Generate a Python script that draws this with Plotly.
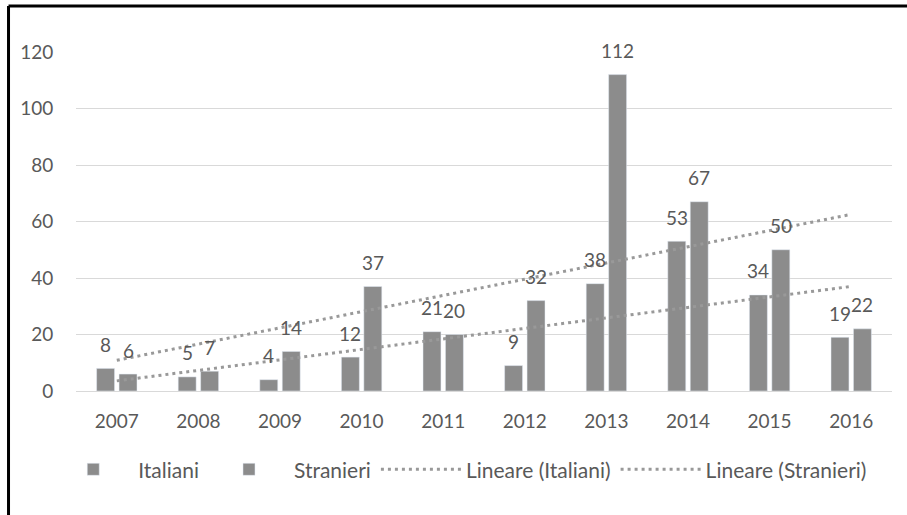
import numpy as np
import plotly.graph_objects as go

years = ["2007", "2008", "2009", "2010", "2011", "2012", "2013", "2014", "2015", "2016"]
italiani = [8, 5, 4, 12, 21, 9, 38, 53, 34, 19]
stranieri = [6, 7, 14, 37, 20, 32, 112, 67, 50, 22]
y_ticks = [0, 20, 40, 60, 80, 100, 120]

BAR = "#8c8c8c"
TXT = "#595959"
FONT = "Lato"

def trend(vals):
    x = np.arange(1, len(vals) + 1)
    m, b = np.polyfit(x, vals, 1)
    return list(m * x + b)

fig = go.Figure()
fig.add_trace(go.Bar(x=years, y=italiani, name="Italiani", marker_color=BAR))
fig.add_trace(go.Bar(x=years, y=stranieri, name="Stranieri", marker_color=BAR))
fig.add_trace(go.Scatter(x=years, y=trend(italiani), name="Lineare (Italiani)", mode="lines",
                         line=dict(color="#999999", width=3, dash="3px,4px")))
fig.add_trace(go.Scatter(x=years, y=trend(stranieri), name="Lineare (Stranieri)", mode="lines",
                         line=dict(color="#999999", width=3, dash="3px,4px")))

annotations = []
for series, shift in ((italiani, -11.2), (stranieri, 11.2)):
    for i, v in enumerate(series):
        annotations.append(dict(x=i, y=v, xref="x", yref="y", text=str(v), showarrow=False,
                                xshift=shift, yshift=24, yanchor="middle",
                                font=dict(size=19, color=TXT, family=FONT)))

fig.update_layout(
    width=907, height=515,
    margin=dict(l=76, r=15, t=52, b=124),
    paper_bgcolor="white", plot_bgcolor="white",
    font=dict(family=FONT, color=TXT, size=16),
    barmode="group", bargap=0.45, bargroupgap=0.2,
    showlegend=True,
    legend=dict(orientation="h", x=-0.034, xanchor="left", y=-0.232, yanchor="middle",
                itemwidth=80, font=dict(size=21, color=TXT, family=FONT)),
    xaxis=dict(type="category", showgrid=False, showline=True, linecolor="#d9d9d9", linewidth=1,
               ticks="outside", ticklen=13, tickcolor="rgba(0,0,0,0)",
               tickfont=dict(size=19, color=TXT)),
    yaxis=dict(range=[0, 120], tickvals=y_ticks, showgrid=True, gridcolor="#d9d9d9",
               gridwidth=1, zeroline=False, showline=False,
               ticks="outside", ticklen=18, tickcolor="rgba(0,0,0,0)",
               tickfont=dict(size=19, color=TXT)),
    hovermode=False,
    annotations=annotations,
    shapes=[
        dict(type="line", xref="paper", yref="paper", x0=-0.0827, x1=1.03, y0=1.1357, y1=1.1357,
             line=dict(color="black", width=3)),
        dict(type="line", xref="paper", yref="paper", x0=-0.0827, x1=-0.0827, y0=1.1357, y1=-0.4,
             line=dict(color="black", width=3)),
    ],
)

fig.write_html("out.html", config={"displayModeBar": False},
               post_script="document.body.style.margin='0';")
